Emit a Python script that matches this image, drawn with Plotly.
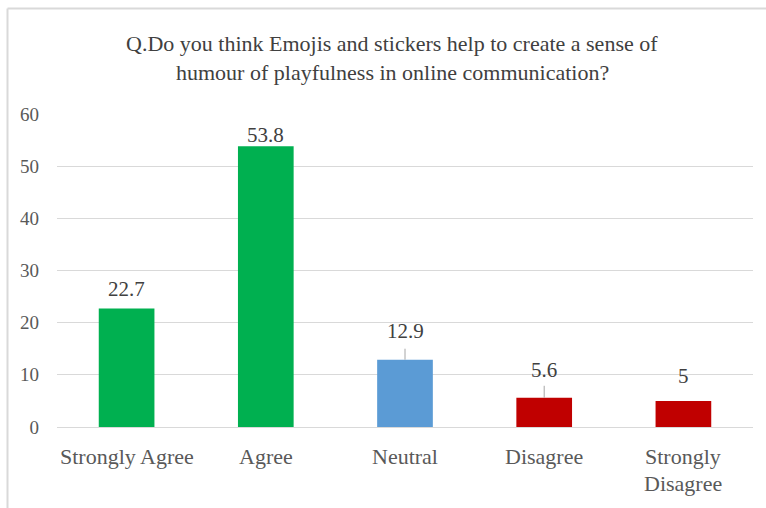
import plotly.graph_objects as go

# Survey responses (percent)
categories = ["Strongly Agree", "Agree", "Neutral", "Disagree", "Strongly Disagree"]
category_lines = [["Strongly Agree"], ["Agree"], ["Neutral"], ["Disagree"], ["Strongly", "Disagree"]]
values = [22.7, 53.8, 12.9, 5.6, 5]
y_ticks = [0, 10, 20, 30, 40, 50, 60]
title_lines = [
    "Q.Do you think Emojis and stickers help to create a sense of",
    "humour of playfulness in online communication?",
]

# styling
bar_colors = ["#00B050", "#00B050", "#5B9BD5", "#C00000", "#C00000"]
label_shift = [20, 11, 29, 28, 25]          # value label centre above bar top (px)
leader_len = [0, 0, 11, 12, 0]              # leader line length above bar top (px)
FONT = "Liberation Serif"
W, H = 766, 508
ML, MR, MT, MB = 57, 13, 114, 81
PW, PH = W - ML - MR, H - MT - MB

fig = go.Figure(
    go.Bar(
        x=categories,
        y=values,
        marker=dict(color=bar_colors, line=dict(width=0)),
        width=0.4,
        hoverinfo="x+y",
    )
)

annotations = []
# value labels
for c, v, s in zip(categories, values, label_shift):
    annotations.append(dict(
        x=c, y=v, xref="x", yref="y", text=f"{v:g}", showarrow=False,
        yanchor="middle", yshift=s,
        font=dict(family=FONT, size=21, color="#404040"),
    ))
# category labels (wrapped like the source chart)
for c, lines in zip(categories, category_lines):
    for i, t in enumerate(lines):
        annotations.append(dict(
            x=c, y=0, xref="x", yref="paper", text=t, showarrow=False,
            yanchor="middle", yshift=-29 - 27 * i,
            font=dict(family=FONT, size=22, color="#595959"),
        ))
# title
for i, t in enumerate(title_lines):
    annotations.append(dict(
        x=0.5, y=1, xref="paper", yref="paper", text=t, showarrow=False,
        xanchor="center", yanchor="middle", xshift=-13, yshift=71 - 29 * i,
        font=dict(family=FONT, size=22, color="#404040"),
    ))

shapes = []
# leader lines from labels down to bars
for c, v, n in zip(categories, values, leader_len):
    if n:
        shapes.append(dict(
            type="line", xref="x", yref="y", ysizemode="pixel", yanchor=v,
            x0=c, x1=c, y0=0, y1=n, line=dict(color="#A6A6A6", width=1),
        ))
# chart-area border (left and top edges)
bx = (7.5 - ML) / PW
by = (MT + PH - 8.5) / PH
shapes.append(dict(type="line", xref="paper", yref="paper",
                   x0=bx, x1=bx, y0=-(MB + 5) / PH, y1=by,
                   line=dict(color="#D9D9D9", width=2)))
shapes.append(dict(type="line", xref="paper", yref="paper",
                   x0=bx, x1=(W + 5 - ML) / PW, y0=by, y1=by,
                   line=dict(color="#D9D9D9", width=2)))

fig.update_layout(
    width=W, height=H,
    margin=dict(l=ML, r=MR, t=MT, b=MB, pad=0),
    paper_bgcolor="white", plot_bgcolor="white",
    showlegend=False,
    annotations=annotations,
    shapes=shapes,
    xaxis=dict(type="category", range=[-0.5, 4.5], showticklabels=False,
               showgrid=False, zeroline=False, showline=False, fixedrange=True),
    yaxis=dict(range=[0, 60], tickvals=y_ticks, showgrid=True,
               gridcolor="#D9D9D9", gridwidth=1, zeroline=True,
               zerolinecolor="#D9D9D9", zerolinewidth=1, showline=False,
               ticks="", ticklabelstandoff=17,
               tickfont=dict(family=FONT, size=19, color="#595959"),
               fixedrange=True),
)

fig.write_html("out.html")
